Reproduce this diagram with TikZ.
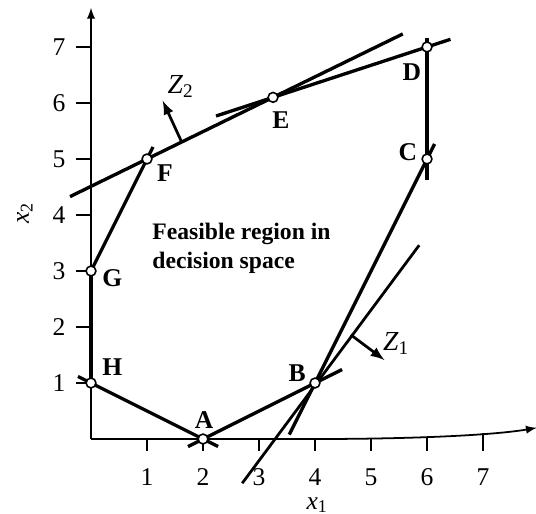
\documentclass[tikz,border=0pt]{standalone}
\usepackage{fontspec}
\setmainfont{Liberation Serif}
\begin{document}
\begin{tikzpicture}[
        edge/.style={line width=1.7pt},
        zline/.style={line width=1.4pt},
        axis/.style={line width=0.9pt},
        vertex/.style={circle, draw, fill=white, line width=0.8pt, inner sep=0pt, minimum size=5pt},
        vlabel/.style={font=\fontsize{13}{13}\selectfont\bfseries},
        numlabel/.style={font=\fontsize{13}{13}\selectfont}]
        \useasboundingbox (-1.625,-1.339) rectangle (7.946,7.839);
        \coordinate (O) at (0,0);
        \coordinate (yend) at (0,7.7);
        \coordinate (xmid) at (4,0);
        \coordinate (xend) at (7.96,0.2);
        \coordinate (A) at (2,0);
        \coordinate (B) at (4,1);
        \coordinate (C) at (6,5);
        \coordinate (D) at (6,7);
        \coordinate (E) at (3.25,6.1);
        \coordinate (F) at (1,5);
        \coordinate (G) at (0,3);
        \coordinate (H) at (0,1);
        \coordinate (zonelo) at (2.70,-0.79);
        \coordinate (zonehi) at (5.86,3.46);
        \coordinate (zonea) at (4.64,1.86);
        \coordinate (zoneb) at (5.24,1.41);
        \coordinate (ztwoa) at (1.62,5.30);
        \coordinate (ztwob) at (1.28,6.04);

        \draw[axis, -latex] (O) -- (yend);
        \draw[axis, -latex] (O) -- (xmid) .. controls (5.8,0) and (7.2,0.07) .. (xend);
        \foreach \x/\t in {1/0,2/0,3/0,4/0,5/0.01,6/0.03,7/0.1} {
            \draw[axis] (\x,\t) -- (\x,-0.22);
            \node[numlabel] (xt\x) at (\x,-0.68) {\x};
        }
        \foreach \y in {1,...,7} {
            \draw[axis] (0,\y) -- (-0.27,\y);
            \node[numlabel] (yt\y) at (-0.57,\y) {\y};
        }
        \node[numlabel] (xonelab) at (4.04,-1.18) {\textit{x}\textsubscript{1}};
        \node[numlabel, rotate=90] (xtwolab) at (-1.18,4.04) {\textit{x}\textsubscript{2}};

        \draw[edge, shorten <=-0.26cm, shorten >=-0.30cm] (H) -- (A);
        \draw[edge, shorten <=-0.30cm, shorten >=-0.54cm] (A) -- (B);
        \draw[edge, shorten <=-1.03cm, shorten >=-0.30cm] (B) -- (C);
        \draw[edge, shorten <=-0.37cm, shorten >=-0.16cm] (C) -- (D);
        \draw[edge, shorten <=-0.44cm, shorten >=-1.07cm] (D) -- (E);
        \draw[edge, shorten <=-1.53cm, shorten >=-2.58cm] (F) -- (E);
        \draw[edge, shorten >=-0.24cm] (G) -- (F);
        \draw[edge] (G) -- (H);
        \draw[zline] (zonelo) -- (zonehi);
        \draw[zline, -latex] (zonea) -- (zoneb);
        \draw[zline, -latex] (ztwoa) -- (ztwob);

        \foreach \p in {A,B,C,D,E,F,G,H}
            \node[vertex] (v\p) at (\p) {};

        \node[vlabel] (labA) at (2.02,0.34) {A};
        \node[vlabel] (labB) at (3.68,1.18) {B};
        \node[vlabel] (labC) at (5.66,5.13) {C};
        \node[vlabel] (labD) at (5.73,6.55) {D};
        \node[vlabel] (labE) at (3.39,5.70) {E};
        \node[vlabel] (labF) at (1.32,4.75) {F};
        \node[vlabel] (labG) at (0.38,2.87) {G};
        \node[vlabel] (labH) at (0.38,1.29) {H};
        \node[numlabel, font=\fontsize{14}{14}\selectfont] (zonelab) at (5.45,1.70) {\textit{Z}\textsubscript{1}};
        \node[numlabel, font=\fontsize{14}{14}\selectfont] (ztwolab) at (1.60,6.30) {\textit{Z}\textsubscript{2}};
        \node[font=\fontsize{12}{15}\selectfont\bfseries, align=left, anchor=north west, inner sep=0pt] (region) at (1.09,3.87) {Feasible region in\\decision space};
    \end{tikzpicture}
\end{document}
